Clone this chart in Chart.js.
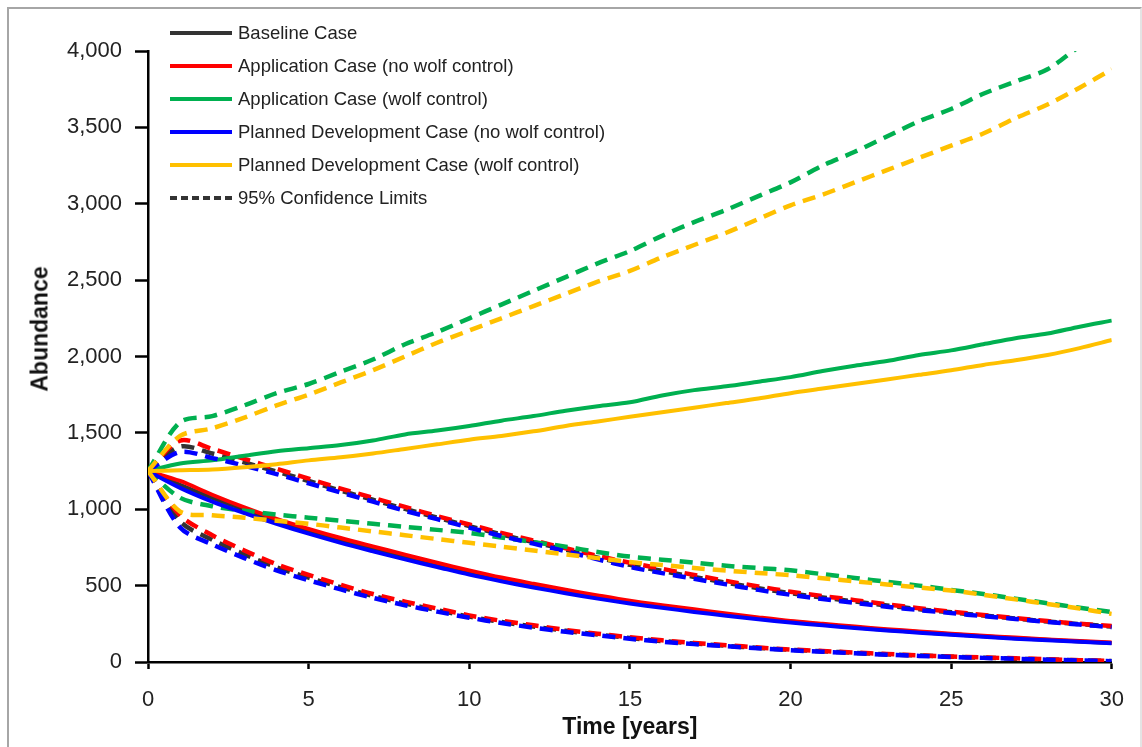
<!DOCTYPE html>
<html>
<head>
<meta charset="utf-8">
<script src="https://cdn.jsdelivr.net/npm/chart.js@4/dist/chart.umd.min.js"></script>
<style>
	body { margin: 0; background: #fff; }
	#wrap { position: relative; width: 1142px; height: 747px; overflow: hidden; font-family: "Liberation Sans", Arial, sans-serif; }
	#frame { position: absolute; left: 7px; top: 7px; width: 1131px; height: 800px; border: 2px solid #a6a6a6; border-right-color: #e4e4e4; }
	#chart { position: absolute; left: 0; top: 0; }
	.leg-row { position: absolute; left: 170px; height: 20px; }
	.leg-line { position: absolute; left: 0; top: 8px; width: 62px; height: 0; border-top: 4px solid #333; }
	.leg-text { position: absolute; left: 68px; top: -1px; white-space: nowrap; font-size: 18.5px; color: #222; }
	#ytitle { position: absolute; left: 40px; top: 329px; transform: translate(-50%, -50%) rotate(-90deg); font-weight: bold; font-size: 23px; color: #111; white-space: nowrap; }
</style>
</head>
<body>
<div id="wrap">
	<div id="frame"></div>
	<canvas id="chart" width="1142" height="747"></canvas>
	<div id="legend"></div>
	<div id="ytitle">Abundance</div>
</div>
<script>
// Years on the x axis.
const years = [0,1,2,3,4,5,6,7,8,9,10,11,12,13,14,15,16,17,18,19,20,21,22,23,24,25,26,27,28,29,30];
const xTicks = [0, 5, 10, 15, 20, 25, 30];
const yTicks = [0, 500, 1000, 1500, 2000, 2500, 3000, 3500, 4000];

// Baseline Case (hidden under the red / blue lines).
const baselineMean  = [1250,1160,1075,995,920,855,795,740,686,634,584,539,499,461,425,392,363,336,310,286,263,245,227,210,196,181,168,156,145,135,125];
const baselineUpper = [1250,1410,1365,1307,1247,1185,1122,1062,1002,945,890,835,785,735,683,636,596,557,519,483,450,422,396,370,346,325,304,285,265,248,232];
const baselineLower = [1250,920,800,705,620,552,490,432,383,340,297,262,232,204,180,157,137,121,106,92,80,70,60,50,42,35,28,22,16,11,6];

// Application Case (no wolf control).
const appNoWolfMean  = [1250,1185,1095,1012,937,872,812,757,703,650,600,553,512,473,436,401,372,345,318,292,268,250,232,215,200,185,172,160,148,138,128];
const appNoWolfUpper = [1250,1450,1395,1330,1265,1200,1135,1075,1015,955,900,845,795,745,695,650,610,570,530,495,460,432,405,378,352,330,308,288,268,250,235];
const appNoWolfLower = [1250,960,830,730,640,570,505,445,395,350,305,270,240,210,185,162,142,125,110,95,82,72,62,52,44,36,30,24,18,12,8];

// Application Case (wolf control).
const appWolfMean  = [1250,1300,1320,1350,1380,1400,1420,1450,1490,1515,1545,1580,1610,1645,1675,1700,1745,1780,1805,1835,1865,1905,1940,1970,2010,2040,2080,2120,2150,2195,2235];
const appWolfUpper = [1250,1570,1610,1680,1760,1820,1900,1980,2080,2160,2250,2340,2430,2520,2610,2690,2790,2880,2960,3050,3140,3250,3340,3440,3540,3620,3720,3800,3880,4030,4150];
const appWolfLower = [1250,1075,1020,990,965,945,925,905,885,865,845,815,785,755,720,690,670,650,630,615,600,575,550,525,500,472,445,415,385,355,327];

// Planned Development Case (no wolf control).
const pdNoWolfMean  = [1250,1140,1050,975,905,840,780,725,672,622,572,528,488,450,415,383,355,328,303,280,258,240,222,206,192,178,165,153,142,132,122];
const pdNoWolfUpper = [1250,1375,1335,1285,1230,1170,1110,1050,990,935,880,825,775,725,672,622,582,545,508,472,440,412,387,362,340,320,300,282,262,245,228];
const pdNoWolfLower = [1250,880,770,680,600,535,475,420,372,330,290,255,225,198,175,152,133,117,103,90,77,67,57,48,40,33,27,21,15,10,5];

// Planned Development Case (wolf control).
const pdWolfMean  = [1250,1255,1260,1275,1295,1320,1340,1365,1395,1425,1455,1480,1510,1545,1575,1605,1635,1665,1695,1725,1760,1790,1820,1850,1880,1910,1945,1975,2010,2055,2108];
const pdWolfUpper = [1250,1480,1530,1600,1680,1750,1830,1910,2000,2090,2170,2250,2330,2410,2490,2560,2650,2730,2810,2900,2990,3060,3140,3220,3300,3380,3460,3560,3650,3760,3880];
const pdWolfLower = [1250,985,960,945,925,905,880,855,830,805,780,755,730,705,680,655,635,615,598,583,568,548,528,508,488,468,440,410,380,350,315];

const series = [
	{ name: 'Baseline Case', color: '#333333', mean: baselineMean, upper: baselineUpper, lower: baselineLower },
	{ name: 'Application Case (no wolf control)', color: '#ff0000', mean: appNoWolfMean, upper: appNoWolfUpper, lower: appNoWolfLower },
	{ name: 'Application Case (wolf control)', color: '#00b050', mean: appWolfMean, upper: appWolfUpper, lower: appWolfLower },
	{ name: 'Planned Development Case (no wolf control)', color: '#0000ff', mean: pdNoWolfMean, upper: pdNoWolfUpper, lower: pdNoWolfLower },
	{ name: 'Planned Development Case (wolf control)', color: '#ffc000', mean: pdWolfMean, upper: pdWolfUpper, lower: pdWolfLower },
];

function toPoints( values ) {
	return values.map( ( v, i ) => ( { x: years[i], y: v } ) );
}

function lineSet( label, values, color, dashed ) {
	return {
		label: label,
		data: toPoints( values ),
		borderColor: color,
		borderWidth: dashed ? 4.5 : 4,
		borderDash: dashed ? [13, 8] : [],
		borderCapStyle: 'butt',
		pointRadius: 0,
		tension: 0.3, // smoothed lines, like the original
		fill: false
	};
}

// Later series sit on top, like the original, so build then reverse.
let datasets = [];
series.forEach( s => {
	datasets.push( lineSet( s.name, s.mean, s.color, false ) );
	datasets.push( lineSet( s.name + ' upper', s.upper, s.color, true ) );
	datasets.push( lineSet( s.name + ' lower', s.lower, s.color, true ) );
} );
datasets = datasets.reverse();

// HTML legend inside the plot area.
const legendEl = document.getElementById( 'legend' );
const legendItems = series.map( s => ( { name: s.name, color: s.color, dashed: false } ) );
legendItems.push( { name: '95% Confidence Limits', color: '#333333', dashed: true } );
legendItems.forEach( ( item, i ) => {
	const row = document.createElement( 'div' );
	row.className = 'leg-row';
	row.style.top = ( 23 + i * 33 ) + 'px';
	const line = document.createElement( 'div' );
	line.className = 'leg-line';
	line.style.borderTopColor = item.color;
	if ( item.dashed ) {
		line.style.borderTop = 'none';
		line.style.height = '4px';
		line.style.top = '8px';
		line.style.background = 'repeating-linear-gradient(to right, ' + item.color + ' 0 7px, transparent 7px 11px)';
	}
	const text = document.createElement( 'div' );
	text.className = 'leg-text';
	text.textContent = item.name;
	row.appendChild( line );
	row.appendChild( text );
	legendEl.appendChild( row );
} );

const tickFont = { family: '"Liberation Sans", Arial, sans-serif', size: 22 };

new Chart( document.getElementById( 'chart' ), {
	type: 'line',
	data: { datasets: datasets },
	options: {
		responsive: false,
		animation: false,
		events: [],
		layout: { padding: { top: 51, right: 24, bottom: 0, left: 0 } },
		scales: {
			x: {
				type: 'linear',
				min: 0,
				max: 30,
				afterFit: ( scale ) => { scale.height = 85; },
				afterBuildTicks: ( scale ) => { scale.ticks = xTicks.map( v => ( { value: v } ) ); },
				ticks: { font: tickFont, color: '#222', padding: 18, maxRotation: 0 },
				grid: { display: true, drawOnChartArea: false, drawTicks: true, tickLength: 7, tickWidth: 2.5, tickColor: '#000' },
				border: { display: true, color: '#000', width: 2.5 },
				title: {
					display: true,
					text: 'Time [years]',
					color: '#111',
					font: { family: '"Liberation Sans", Arial, sans-serif', size: 23, weight: 'bold' },
					padding: { top: 0, bottom: 6 }
				}
			},
			y: {
				type: 'linear',
				min: 0,
				max: 4000,
				afterFit: ( scale ) => { scale.width = 148; },
				afterBuildTicks: ( scale ) => { scale.ticks = yTicks.map( v => ( { value: v } ) ); },
				ticks: {
					font: tickFont,
					color: '#222',
					padding: 13,
					callback: ( v ) => Number( v ).toLocaleString( 'en-US' )
				},
				grid: { display: true, drawOnChartArea: false, drawTicks: true, tickLength: 13, tickWidth: 2.5, tickColor: '#000' },
				border: { display: true, color: '#000', width: 2.5 }
			}
		},
		plugins: {
			legend: { display: false },
			tooltip: { enabled: false },
			title: { display: false }
		}
	}
} );
</script>
</body>
</html>
